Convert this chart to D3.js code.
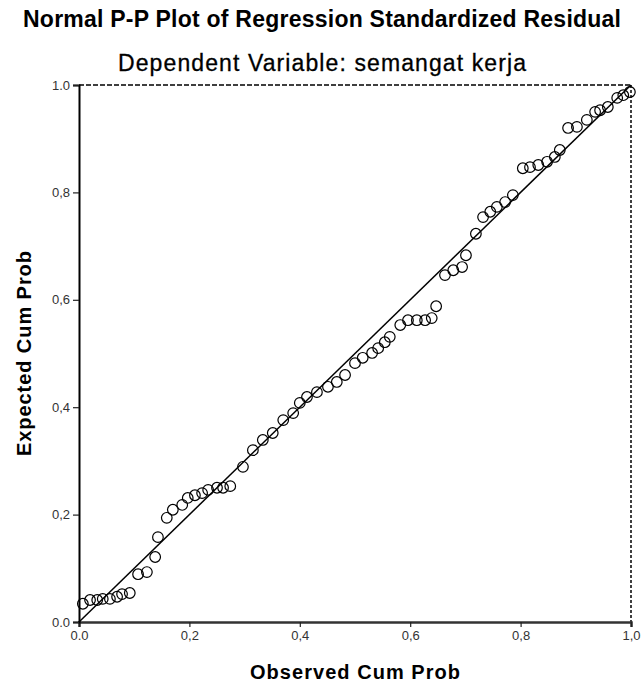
<!DOCTYPE html>
<html>
<head>
<meta charset="utf-8">
<script src="https://cdn.jsdelivr.net/npm/d3@7"></script>
<style>
  body { margin: 0; background: #fff; }
  text { font-family: "Liberation Sans", Arial, sans-serif; }
</style>
</head>
<body>
<script>
// observed cum prob (x) and expected cum prob (y)
var observed = [0.007, 0.020, 0.033, 0.043, 0.056, 0.069, 0.078, 0.092, 0.107, 0.123,
    0.138, 0.143, 0.159, 0.170, 0.187, 0.197, 0.210, 0.223, 0.234, 0.250,
    0.261, 0.274, 0.297, 0.315, 0.333, 0.351, 0.370, 0.388, 0.400, 0.413,
    0.431, 0.451, 0.467, 0.482, 0.500, 0.514, 0.531, 0.542, 0.554, 0.563,
    0.582, 0.596, 0.612, 0.627, 0.639, 0.647, 0.663, 0.678, 0.694, 0.701,
    0.719, 0.732, 0.745, 0.757, 0.772, 0.786, 0.804, 0.817, 0.832, 0.848,
    0.862, 0.871, 0.886, 0.902, 0.920, 0.935, 0.944, 0.958, 0.975, 0.986, 0.998];
var expected = [0.034, 0.041, 0.041, 0.043, 0.043, 0.047, 0.052, 0.054, 0.089, 0.093,
    0.121, 0.158, 0.194, 0.209, 0.218, 0.231, 0.236, 0.240, 0.246, 0.250,
    0.250, 0.253, 0.289, 0.320, 0.339, 0.352, 0.376, 0.389, 0.408, 0.419,
    0.428, 0.438, 0.447, 0.460, 0.482, 0.492, 0.501, 0.510, 0.521, 0.531,
    0.553, 0.562, 0.562, 0.562, 0.566, 0.588, 0.646, 0.655, 0.661, 0.683,
    0.723, 0.754, 0.764, 0.773, 0.782, 0.795, 0.845, 0.847, 0.851, 0.857,
    0.866, 0.879, 0.920, 0.922, 0.935, 0.950, 0.953, 0.959, 0.976, 0.981, 0.987];

var tickValues = [0, 0.2, 0.4, 0.6, 0.8, 1.0];
var xTickLabels = ["0.0", "0,2", "0,4", "0,6", "0,8", "1,0"];
var yTickLabels = ["0.0", "0,2", "0,4", "0,6", "0,8", "1.0"];

var width = 643, height = 688;
var margin = {top: 85, right: 12, bottom: 66, left: 79};
var plotW = width - margin.left - margin.right;
var plotH = height - margin.top - margin.bottom;

var svg = d3.select("body").append("svg")
    .attr("width", width)
    .attr("height", height);

var x = d3.scaleLinear().domain([0, 1]).range([0, plotW]);
var y = d3.scaleLinear().domain([0, 1]).range([plotH, 0]);

// titles are stretched a little to the widths seen in the original
svg.append("text")
    .attr("x", 322).attr("y", 27)
    .attr("text-anchor", "middle")
    .attr("textLength", 598).attr("lengthAdjust", "spacing")
    .style("font-size", "23px").style("font-weight", "bold")
    .text("Normal P-P Plot of Regression Standardized Residual");

svg.append("text")
    .attr("x", 322).attr("y", 71)
    .attr("text-anchor", "middle")
    .attr("textLength", 408).attr("lengthAdjust", "spacing")
    .style("font-size", "23px")
    .style("stroke", "#000").style("stroke-width", 0.3)
    .text("Dependent Variable: semangat kerja");

var g = svg.append("g")
    .attr("transform", "translate(" + margin.left + "," + margin.top + ")");

// dashed frame on top and right
g.append("line")
    .attr("x1", 0).attr("x2", plotW).attr("y1", 0).attr("y2", 0)
    .attr("stroke", "#000").attr("stroke-width", 1.5).attr("stroke-dasharray", "5,2");
g.append("line")
    .attr("x1", plotW).attr("x2", plotW).attr("y1", 0).attr("y2", plotH)
    .attr("stroke", "#000").attr("stroke-width", 1.5).attr("stroke-dasharray", "3,2");

var xAxis = g.append("g")
    .attr("transform", "translate(0," + plotH + ")")
    .call(d3.axisBottom(x).tickValues(tickValues)
        .tickFormat(function(d, i) { return xTickLabels[i]; })
        .tickSize(5).tickPadding(4));

var yAxis = g.append("g")
    .call(d3.axisLeft(y).tickValues(tickValues)
        .tickFormat(function(d, i) { return yTickLabels[i]; })
        .tickSize(6).tickPadding(3));

xAxis.select(".domain").attr("stroke", "#333").attr("stroke-width", 2.5);
yAxis.select(".domain").attr("stroke", "#000").attr("stroke-width", 2);
g.selectAll(".tick line").attr("stroke", "#222").attr("stroke-width", 1.2);
g.selectAll(".tick text")
    .style("font-size", "13px")
    .style("font-family", "'Liberation Sans', Arial, sans-serif")
    .attr("fill", "#333");

// reference diagonal
g.append("line")
    .attr("x1", x(0)).attr("y1", y(0))
    .attr("x2", x(1)).attr("y2", y(1))
    .attr("stroke", "#000").attr("stroke-width", 1.5);

g.selectAll("circle.pt")
    .data(observed)
    .enter().append("circle")
    .attr("class", "pt")
    .attr("cx", function(d) { return x(d); })
    .attr("cy", function(d, i) { return y(expected[i]); })
    .attr("r", 5.3)
    .attr("fill", "none")
    .attr("stroke", "#000")
    .attr("stroke-width", 1.2);

svg.append("text")
    .attr("x", margin.left + plotW / 2).attr("y", 679)
    .attr("text-anchor", "middle")
    .attr("textLength", 210).attr("lengthAdjust", "spacing")
    .style("font-size", "20px").style("font-weight", "bold")
    .text("Observed Cum Prob");

svg.append("text")
    .attr("transform", "translate(31," + (margin.top + plotH / 2) + ") rotate(-90)")
    .attr("text-anchor", "middle")
    .attr("textLength", 205).attr("lengthAdjust", "spacing")
    .style("font-size", "20px").style("font-weight", "bold")
    .text("Expected Cum Prob");
</script>
</body>
</html>
